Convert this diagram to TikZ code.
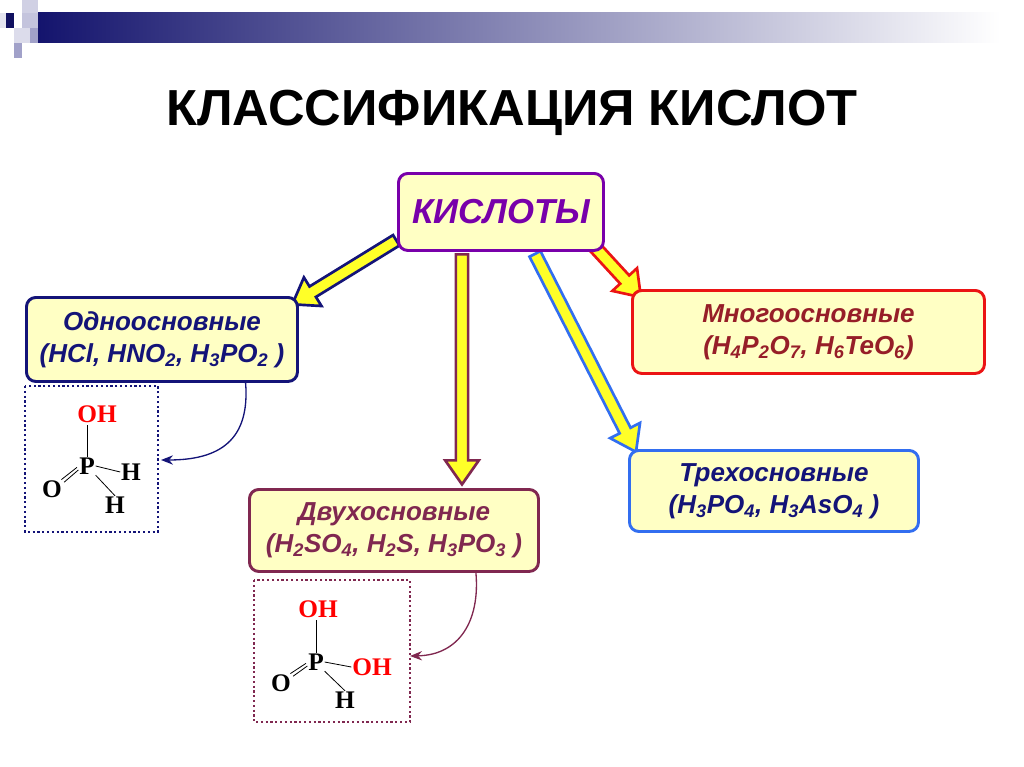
\documentclass[tikz,border=0pt]{standalone}
\usepackage{fontspec}
\setmainfont{Liberation Sans}
\newfontfamily\chemfont{Liberation Serif}
\usetikzlibrary{shapes.arrows,calc,arrows.meta}
\definecolor{boxfill}{RGB}{255,255,196}
\definecolor{ynavy}{RGB}{20,20,120}
\definecolor{ypurple}{RGB}{120,0,170}
\definecolor{ymaroon}{RGB}{128,40,80}
\definecolor{yblue}{RGB}{50,110,240}
\definecolor{yred}{RGB}{235,20,20}
\definecolor{ybrown}{RGB}{150,30,40}
\definecolor{yellowfill}{RGB}{255,255,40}
\tikzset{
  cls/.style={draw, line width=2.2pt, rounded corners=7pt, fill=boxfill, align=center,
     font=\fontsize{19.5pt}{24pt}\selectfont\bfseries\itshape, anchor=north west},
  barrow/.style={single arrow, draw, line width=2pt, fill=yellowfill, inner sep=3.6pt,
     single arrow head extend=8pt, single arrow tip angle=70, anchor=center},
  dotbox/.style={dotted, line width=1.6pt},
  chem/.style={font=\chemfont\bfseries\fontsize{19pt}{19pt}\selectfont, inner sep=0.5pt},
  bond/.style={line width=0.6pt}
}
\newcommand{\blockarrow}[3]{%
  \path let \p1=(#1), \p2=(#2), \n1={atan2(\y2-\y1,\x2-\x1)}, \n2={veclen(\x2-\x1,\y2-\y1)} in
    node[barrow, draw=#3, minimum height=\n2, rotate=\n1] at ($(#1)!0.5!(#2)$) {};}
\begin{document}
\begin{tikzpicture}[x=0.75pt,y=-0.75pt]
\useasboundingbox (0,0) rectangle (1024,767);
% header bar
\shade[left color=ynavy!90!black, right color=white] (30,13) rectangle (1000,43);
\fill[white] (0,0) rectangle (38,60);
\fill[ynavy!80!black] (6,13) rectangle (14,28);
\fill[ynavy!20] (22,0) rectangle (38,13);
\fill[ynavy!25] (22,13) rectangle (38,28);
\fill[ynavy!12] (0,13) rectangle (6,28);
\fill[ynavy!15] (14,28) rectangle (30,43);
\fill[ynavy!40] (30,28) rectangle (38,43);
\fill[ynavy!40] (14,43) rectangle (22,58);
% title
\node[font=\bfseries\fontsize{38pt}{42pt}\selectfont] (title) at (512,113) {КЛАССИФИКАЦИЯ КИСЛОТ};
% arrows coordinates
\coordinate (a1s) at (400,238); \coordinate (a1e) at (296,302);
\coordinate (a2s) at (462,250); \coordinate (a2e) at (462,480);
\coordinate (a3s) at (533,250); \coordinate (a3e) at (634,448);
\coordinate (a4s) at (592,244); \coordinate (a4e) at (638,294);
\blockarrow{a1s}{a1e}{ynavy}
\blockarrow{a2s}{a2e}{ymaroon}
\blockarrow{a3s}{a3e}{yblue}
\blockarrow{a4s}{a4e}{yred}
% main node
\node[cls, draw=ypurple, minimum width=205*0.75pt, minimum height=77*0.75pt,
  font=\fontsize{26pt}{28pt}\selectfont\bfseries\itshape, text=ypurple] (acid) at (397,172) {КИСЛОТЫ};
\node[cls, draw=ynavy, text=ynavy, minimum width=271*0.75pt, minimum height=84*0.75pt] (one) at (25,296)
  {Одноосновные\\(HCl, HNO\textsubscript{2}, H\textsubscript{3}PO\textsubscript{2} )};
\node[cls, draw=yred, text=ybrown, minimum width=352*0.75pt, minimum height=83*0.75pt] (many) at (631,289)
  {Многоосновные\\(H\textsubscript{4}P\textsubscript{2}O\textsubscript{7}, H\textsubscript{6}TeO\textsubscript{6})};
\node[cls, draw=yblue, text=ynavy, minimum width=289*0.75pt, minimum height=81*0.75pt] (three) at (628,449)
  {Трехосновные\\(H\textsubscript{3}PO\textsubscript{4}, H\textsubscript{3}AsO\textsubscript{4} )};
\node[cls, draw=ymaroon, text=ymaroon, minimum width=289*0.75pt, minimum height=82*0.75pt] (two) at (248,488)
  {Двухосновные\\(H\textsubscript{2}SO\textsubscript{4}, H\textsubscript{2}S, H\textsubscript{3}PO\textsubscript{3} )};
% dotted boxes
\draw[dotbox, ynavy] (25,386) rectangle (158,532);
\draw[dotbox, ymaroon] (254,580) rectangle (410,722);
% structure 1
\node[chem, text=red] (oh1) at (97,414) {OH};
\node[chem] (p1) at (87,466) {P};
\node[chem] (h1a) at (131,472) {H};
\node[chem] (o1) at (52,489) {O};
\node[chem] (h1b) at (115,505) {H};
\draw[bond] (oh1.south -| p1.north) ++(0,2) -- (p1.north);
\draw[bond] (p1.east) -- (h1a.west);
\draw[bond] (p1.south east) -- (h1b.north);
\draw[bond] ([xshift=-1pt,yshift=-1pt]p1.west) -- ([xshift=-1pt]o1.north east);
\draw[bond] ([xshift=0pt,yshift=-3pt]p1.west) -- ([xshift=1pt,yshift=-2pt]o1.north east);
% structure 2
\node[chem, text=red] (oh2) at (318,609) {OH};
\node[chem] (p2) at (316,662) {P};
\node[chem, text=red] (oh2b) at (372,667) {OH};
\node[chem] (o2) at (281,683) {O};
\node[chem] (h2) at (345,700) {H};
\draw[bond] (oh2.south -| p2.north) ++(0,2) -- (p2.north);
\draw[bond] (p2.east) -- (oh2b.west);
\draw[bond] (p2.south east) -- (h2.north);
\draw[bond] ([xshift=-1pt,yshift=-1pt]p2.west) -- ([xshift=-1pt]o2.north east);
\draw[bond] ([xshift=0pt,yshift=-3pt]p2.west) -- ([xshift=1pt,yshift=-2pt]o2.north east);
% curved arrows
\coordinate (c1) at (161,460);
\coordinate (c2) at (410,656);
\draw[ynavy, line width=1pt, -{Stealth[length=9pt,width=7pt]}] ([xshift=-40pt]one.south east) .. controls (250,440) and (220,460) .. (c1);
\draw[ymaroon, line width=1pt, -{Stealth[length=9pt,width=7pt]}] ([xshift=-48pt]two.south east) .. controls (480,620) and (460,655) .. (c2);
\end{tikzpicture}
\end{document}
